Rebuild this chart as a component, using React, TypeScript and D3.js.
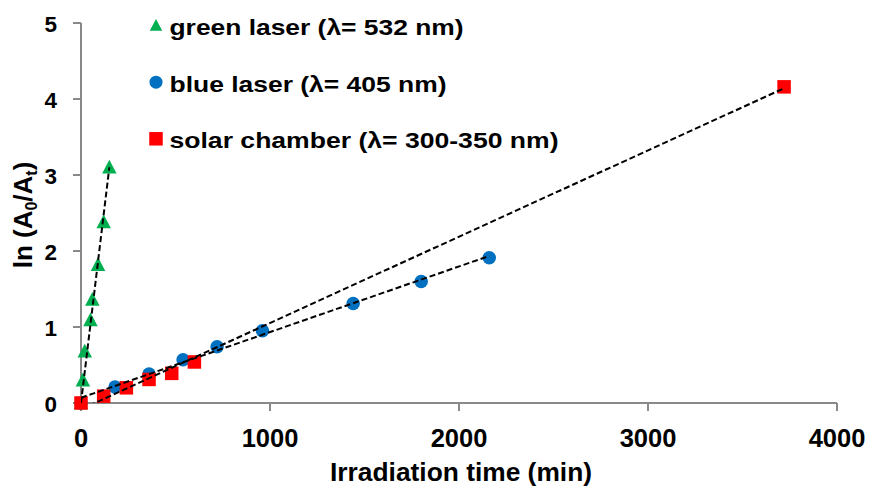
import React from "react";
import * as d3 from "d3";

const greenTime = [0, 10, 20, 50, 60, 90, 120, 150];
const greenValue = [0, 0.3, 0.68, 1.09, 1.36, 1.82, 2.38, 3.1];
const blueTime = [0, 180, 360, 540, 720, 960, 1440, 1800, 2160];
const blueValue = [0, 0.21, 0.38, 0.57, 0.74, 0.95, 1.31, 1.6, 1.91];
const redTime = [0, 120, 240, 360, 480, 600, 3720];
const redValue = [0, 0.09, 0.2, 0.31, 0.39, 0.54, 4.16];

const xTicks = [0, 1000, 2000, 3000, 4000];
const yTicks = [0, 1, 2, 3, 4, 5];

const legendLabels = [
  "green laser (λ= 532 nm)",
  "blue laser (λ= 405 nm)",
  "solar chamber (λ= 300-350  nm)",
];

const GREEN = "#00B050";
const BLUE = "#0070C0";
const RED = "#FF0000";
const AXIS = "#898989";
const FONT = "'Liberation Sans', Arial, Helvetica, sans-serif";

function fit(xs: number[], ys: number[], zero: boolean) {
  if (zero) {
    const sxy = d3.sum(xs, (x, i) => x * ys[i]);
    const sxx = d3.sum(xs, (x) => x * x);
    return { m: sxy / sxx, b: 0 };
  }
  const mx = d3.mean(xs)!;
  const my = d3.mean(ys)!;
  const sxy = d3.sum(xs, (x, i) => (x - mx) * (ys[i] - my));
  const sxx = d3.sum(xs, (x) => (x - mx) * (x - mx));
  const m = sxy / sxx;
  return { m, b: my - m * mx };
}

export default function App() {
  const W = 870;
  const H = 487;
  const x = d3.scaleLinear().domain([0, 4000]).range([81, 837]);
  const y = d3.scaleLinear().domain([0, 5]).range([403, 23]);

  const series = [
    { t: greenTime, v: greenValue, color: GREEN, shape: "tri", zero: true },
    { t: blueTime, v: blueValue, color: BLUE, shape: "circ", zero: false },
    { t: redTime, v: redValue, color: RED, shape: "sq", zero: false },
  ];

  const line = d3
    .line<[number, number]>()
    .x((d) => x(d[0]))
    .y((d) => y(d[1]));

  const marker = (shape: string, cx: number, cy: number, color: string, s: number, key: any) => {
    if (shape === "tri") {
      const h = s * 0.95;
      const pts = `${cx},${cy - h * 0.55} ${cx + s / 2},${cy + h * 0.45} ${cx - s / 2},${cy + h * 0.45}`;
      return <polygon key={key} points={pts} fill={color} />;
    }
    if (shape === "circ") return <circle key={key} cx={cx} cy={cy} r={s / 2} fill={color} />;
    return <rect key={key} x={cx - s / 2} y={cy - s / 2} width={s} height={s} fill={color} />;
  };

  const sizes: Record<string, number> = { tri: 14.5, circ: 13.5, sq: 13.5 };
  const legendSizes: Record<string, number> = { tri: 12.5, circ: 13, sq: 13.5 };
  const legendY = [35, 91.7, 148.3];
  const legendLen = [294, 277, 389];

  return (
    <svg width={W} height={H} style={{ display: "block", position: "absolute", left: 0, top: 0 }} fontFamily={FONT}>
      <defs>
        <clipPath id="plot">
          <rect x={81} y={23} width={756} height={380} />
        </clipPath>
      </defs>
      <rect width={W} height={H} fill="#fff" />

      {/* axes */}
      <line x1={81} x2={81} y1={y(5)} y2={y(0)} stroke={AXIS} strokeWidth={2} />
      <line x1={81} x2={x(4000)} y1={403} y2={403} stroke={AXIS} strokeWidth={2} />
      {yTicks.map((t) => (
        <g key={"yt" + t}>
          <line x1={73} x2={81} y1={y(t)} y2={y(t)} stroke={AXIS} strokeWidth={2} />
          <text x={57} y={y(t) + 8.5} textAnchor="end" fontSize={22.5} fontWeight="bold" fill="#000">
            {t}
          </text>
        </g>
      ))}
      {xTicks.map((t) => (
        <g key={"xt" + t}>
          <line x1={x(t)} x2={x(t)} y1={403} y2={411} stroke={AXIS} strokeWidth={2} />
          <text x={x(t)} y={446.7} textAnchor="middle" fontSize={25.5} fontWeight="bold" fill="#000">
            {t}
          </text>
        </g>
      ))}

      {/* titles */}
      <text x={330} y={481} fontSize={25} fontWeight="bold" textLength={262} lengthAdjust="spacingAndGlyphs" fill="#000">
        Irradiation time (min)
      </text>
      <text transform="translate(31.7,215) rotate(-90)" textAnchor="middle" fontSize={26} fontWeight="bold" fill="#000">
        <tspan>ln (A</tspan>
        <tspan fontSize={16} dy={5}>0</tspan>
        <tspan dy={-5}>/A</tspan>
        <tspan fontSize={16} dy={5}>t</tspan>
        <tspan dy={-5}>)</tspan>
      </text>

      {/* markers */}
      {series.map((s, si) => (
        <g key={"s" + si}>
          {s.t.map((t, i) => marker(s.shape, x(t), y(s.v[i]), s.color, sizes[s.shape], i))}
        </g>
      ))}

      {/* trendlines */}
      <g clipPath="url(#plot)">
        {series.map((s, si) => {
          const f = fit(s.t, s.v, s.zero);
          const x0 = d3.min(s.t)!;
          const x1 = d3.max(s.t)!;
          const pts: [number, number][] = [
            [x0, f.m * x0 + f.b],
            [x1, f.m * x1 + f.b],
          ];
          return (
            <path key={"l" + si} d={line(pts)!} fill="none" stroke="#000" strokeWidth={2} strokeDasharray="6,3" />
          );
        })}
      </g>

      {/* legend */}
      {series.map((s, i) => (
        <g key={"lg" + i}>
          {marker(s.shape, 156, legendY[i] - 9.5, s.color, legendSizes[s.shape], "m")}
          <text x={169.5} y={legendY[i]} fontSize={22.5} fontWeight="bold" textLength={legendLen[i]} lengthAdjust="spacingAndGlyphs" fill="#000">
            {legendLabels[i]}
          </text>
        </g>
      ))}
    </svg>
  );
}
